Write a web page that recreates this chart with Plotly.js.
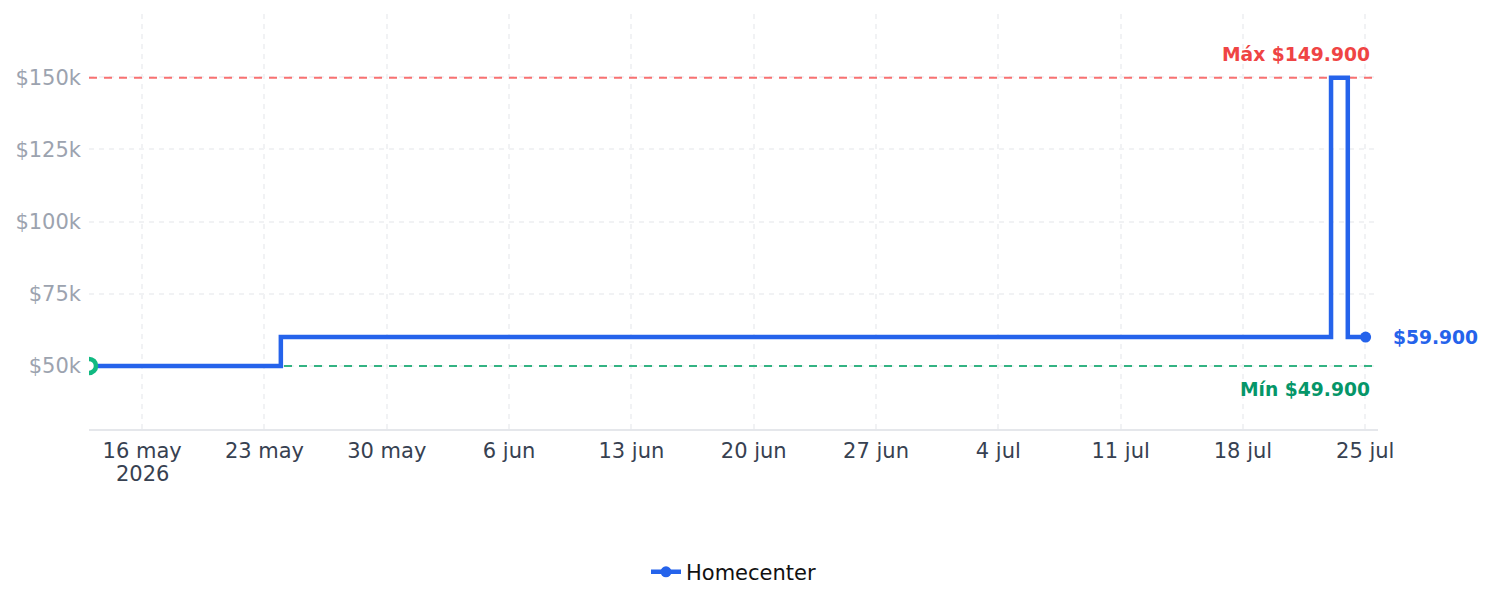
<!DOCTYPE html>
<html>
<head>
<meta charset="utf-8">
<script src="https://cdn.plot.ly/plotly-3.0.1.min.js"></script>
<style>html,body{margin:0;padding:0;background:#fff;}#chart{width:1492px;height:607px;}</style>
</head>
<body>
<div id="chart"></div>
<script>
const dates = ['2026-05-12 23:00', '2026-05-23 22:30', '2026-07-23 01:00', '2026-07-24 00:00', '2026-07-25 00:30'];
const prices = [49900, 59900, 149900, 59900, 59900];
const seriesName = 'Homecenter';
const xRange = ['2026-05-12 23:00', '2026-07-25 17:30'];
const tickDates = ['2026-05-16','2026-05-23','2026-05-30','2026-06-06','2026-06-13','2026-06-20','2026-06-27','2026-07-04','2026-07-11','2026-07-18','2026-07-25'];
const tickLabels = ['16 may','23 may','30 may','6 jun','13 jun','20 jun','27 jun','4 jul','11 jul','18 jul','25 jul'];
const yearLabel = '2026';
const yTickVals = [50000, 75000, 100000, 125000, 150000];
const yTickLabels = ['$50k','$75k','$100k','$125k','$150k'];

const fmt = v => '$' + v.toLocaleString('de-DE');
const maxP = Math.max(...prices), minP = Math.min(...prices);
const minIdx = prices.indexOf(minP);
const last = prices.length - 1;
const FONT = 'DejaVu Sans, sans-serif';

const traces = [
  {
    x: xRange, y: [maxP, maxP], type: 'scatter', mode: 'lines', showlegend: false,
    line: {color: '#f87171', width: 2, dash: '8px,7px'}, hoverinfo: 'skip'
  },
  {
    x: xRange, y: [minP, minP], type: 'scatter', mode: 'lines', showlegend: false,
    line: {color: '#34b383', width: 2, dash: '8px,7px'}, hoverinfo: 'skip'
  },
  {
    x: dates, y: prices, name: seriesName, type: 'scatter', mode: 'lines+markers',
    line: {color: '#2563eb', width: 4.5, shape: 'hv'},
    marker: {color: '#2563eb', size: 11},
    selectedpoints: [last],
    unselected: {marker: {opacity: 0}},
    hoverinfo: 'skip'
  },
  {
    x: [dates[minIdx]], y: [minP], type: 'scatter', mode: 'markers', showlegend: false,
    marker: {color: '#ffffff', size: 14, line: {color: '#10b981', width: 4.5}},
    hoverinfo: 'skip'
  }
];

const layout = {
  width: 1492, height: 607,
  paper_bgcolor: '#ffffff', plot_bgcolor: '#ffffff',
  margin: {l: 89, r: 114, t: 14, b: 178},
  font: {family: FONT, size: 21, color: '#374151'},
  xaxis: {
    type: 'date',
    range: xRange,
    tickvals: tickDates, ticktext: tickLabels,
    tickfont: {size: 21, color: '#374151'},
    showgrid: true, gridcolor: '#f1f2f4', griddash: '5px,5px', gridwidth: 2,
    showline: true, linecolor: '#e5e7eb', linewidth: 2,
    zeroline: false, ticks: '', ticklabelstandoff: 2, fixedrange: true
  },
  yaxis: {
    range: [28000, 172000],
    tickvals: yTickVals, ticktext: yTickLabels,
    tickfont: {size: 21, color: '#9ca3af'},
    showgrid: true, gridcolor: '#f1f2f4', griddash: '5px,5px', gridwidth: 2,
    showline: false, zeroline: false, ticks: '', ticklabelstandoff: 7,
    fixedrange: true
  },
  annotations: [
    {xref: 'paper', x: 1, xanchor: 'right', xshift: -6, yref: 'y', y: maxP, yanchor: 'bottom', yshift: 11,
     text: '<b>Máx ' + fmt(maxP) + '</b>', showarrow: false, font: {family: FONT, size: 18.7, color: '#ef4444'}},
    {xref: 'paper', x: 1, xanchor: 'right', xshift: -6, yref: 'y', y: minP, yanchor: 'top', yshift: -11,
     text: '<b>Mín ' + fmt(minP) + '</b>', showarrow: false, font: {family: FONT, size: 18.7, color: '#059669'}},
    {xref: 'paper', x: 1, xanchor: 'left', xshift: 13, yref: 'y', y: prices[last], yanchor: 'middle',
     text: '<b>' + fmt(prices[last]) + '</b>', showarrow: false, font: {family: FONT, size: 18.7, color: '#2563eb'}},
    {xref: 'x', x: tickDates[0], xanchor: 'center', yref: 'paper', y: -0.1084, yanchor: 'middle',
     text: yearLabel, showarrow: false, font: {family: FONT, size: 21, color: '#374151'}}
  ],
  showlegend: true,
  legend: {orientation: 'h', x: 0.5, xanchor: 'center', y: -0.345, yanchor: 'middle',
           font: {family: FONT, size: 21, color: '#111111'}},
  hovermode: false
};

Plotly.newPlot('chart', traces, layout, {displayModeBar: false, staticPlot: true});
</script>
</body>
</html>
